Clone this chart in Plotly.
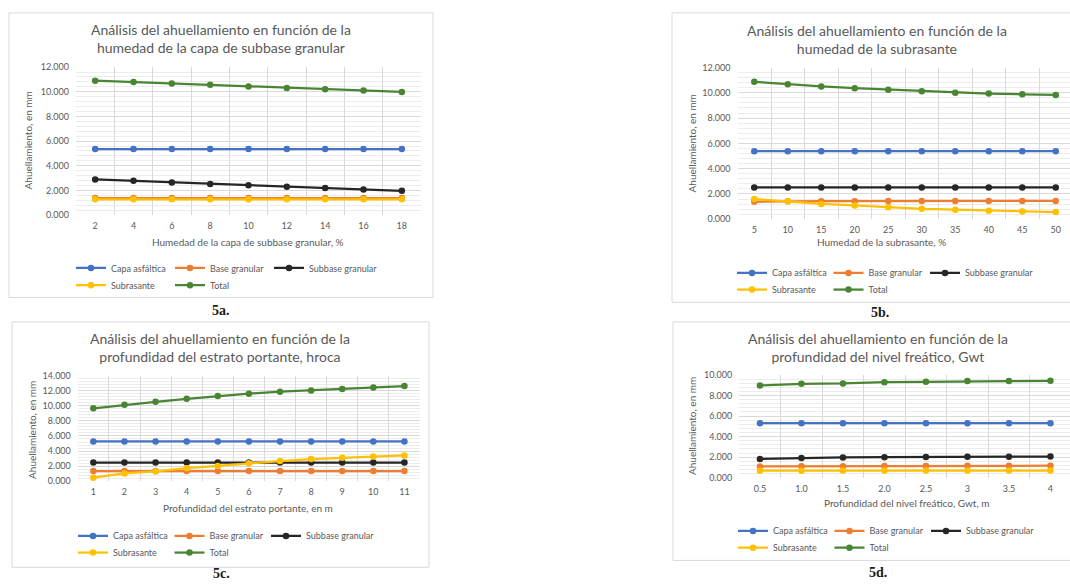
import plotly.graph_objects as go

W, H = 1070, 587

series_names = ["Capa asfáltica", "Base granular", "Subbase granular", "Subrasante", "Total"]
series_colors = ["#4472C4", "#ED7D31", "#262626", "#FFC000", "#4A8533"]

# 5a - humedad de la capa de subbase granular (%)
a_x = ["2", "4", "6", "8", "10", "12", "14", "16", "18"]
a_capa = [5.35, 5.35, 5.35, 5.35, 5.35, 5.35, 5.35, 5.35, 5.35]
a_base = [1.38, 1.38, 1.38, 1.38, 1.38, 1.38, 1.38, 1.38, 1.38]
a_subbase = [2.89, 2.78, 2.64, 2.52, 2.41, 2.30, 2.20, 2.07, 1.96]
a_subrasante = [1.27, 1.27, 1.27, 1.27, 1.27, 1.27, 1.27, 1.27, 1.27]
a_total = [10.90, 10.79, 10.68, 10.57, 10.42, 10.31, 10.20, 10.10, 9.99]

# 5b - humedad de la subrasante (%)
b_x = ["5", "10", "15", "20", "25", "30", "35", "40", "45", "50"]
b_capa = [5.38, 5.38, 5.38, 5.38, 5.38, 5.38, 5.38, 5.38, 5.38, 5.38]
b_base = [1.38, 1.42, 1.43, 1.43, 1.44, 1.44, 1.44, 1.45, 1.45, 1.45]
b_subbase = [2.51, 2.51, 2.51, 2.51, 2.51, 2.51, 2.51, 2.51, 2.51, 2.51]
b_subrasante = [1.60, 1.42, 1.21, 1.09, 0.95, 0.82, 0.75, 0.67, 0.62, 0.57]
b_total = [10.87, 10.68, 10.50, 10.37, 10.25, 10.12, 10.01, 9.94, 9.88, 9.83]

# 5c - profundidad del estrato portante (m)
c_x = ["1", "2", "3", "4", "5", "6", "7", "8", "9", "10", "11"]
c_capa = [5.28, 5.28, 5.28, 5.28, 5.28, 5.28, 5.28, 5.28, 5.28, 5.28, 5.28]
c_base = [1.35, 1.35, 1.35, 1.35, 1.35, 1.35, 1.35, 1.35, 1.35, 1.35, 1.35]
c_subbase = [2.48, 2.48, 2.48, 2.48, 2.48, 2.48, 2.48, 2.48, 2.48, 2.48, 2.48]
c_subrasante = [0.47, 1.04, 1.30, 1.73, 2.03, 2.38, 2.68, 2.94, 3.12, 3.29, 3.42]
c_total = [9.66, 10.14, 10.53, 10.92, 11.31, 11.61, 11.87, 12.04, 12.22, 12.43, 12.61]

# 5d - profundidad del nivel freático, Gwt (m)
d_x = ["0.5", "1.0", "1.5", "2.0", "2.5", "3", "3.5", "4"]
d_capa = [5.30, 5.30, 5.30, 5.30, 5.30, 5.30, 5.30, 5.30]
d_base = [1.09, 1.11, 1.12, 1.13, 1.14, 1.15, 1.16, 1.17]
d_subbase = [1.82, 1.92, 1.97, 1.99, 2.01, 2.03, 2.05, 2.06]
d_subrasante = [0.68, 0.68, 0.69, 0.69, 0.69, 0.70, 0.70, 0.70]
d_total = [8.98, 9.14, 9.17, 9.30, 9.33, 9.40, 9.40, 9.43]

titles = [
    "Análisis del ahuellamiento en función de la<br>humedad de la capa de subbase granular",
    "Análisis del ahuellamiento en función de la<br>humedad de la subrasante",
    "Análisis del ahuellamiento en función de la<br>profundidad del estrato portante, hroca",
    "Análisis del ahuellamiento en función de la<br>profundidad del nivel freático, Gwt",
]
x_titles = [
    "Humedad de la capa de subbase granular, %",
    "Humedad de la subrasante, %",
    "Profundidad del estrato portante, en m",
    "Profundidad del nivel freático, Gwt, m",
]
y_title = "Ahuellamiento, en mm"
panel_labels = ["5a.", "5b.", "5c.", "5d."]
y_max = [12, 12, 14, 10]

panels = [
    (a_x, [a_capa, a_base, a_subbase, a_subrasante, a_total]),
    (b_x, [b_capa, b_base, b_subbase, b_subrasante, b_total]),
    (c_x, [c_capa, c_base, c_subbase, c_subrasante, c_total]),
    (d_x, [d_capa, d_base, d_subbase, d_subrasante, d_total]),
]

# layout geometry in pixels
plot_px = [  # left, right, top, bottom of each plot area
    (76, 421, 62.3, 213),
    (737.5, 1070, 62.7, 217.3),
    (77.8, 420, 376.7, 484.3),
    (739.2, 1070, 376, 480.7),
]
cat_step = [38.33, 33.5, 31.1, 41.5]
box_px = [(9, 433, 7, 297), (672, 1080, 7, 302), (12, 429, 322, 572), (673, 1080, 322, 565)]
title_pos = [(221, 33), (877, 34), (220, 348), (878, 348)]
xtitle_pos = [(248, 241), (881, 241), (248, 512), (906, 507)]
ytitle_pos = [(28, 137), (692, 140), (32, 432), (692, 428)]
# legend: left x, row-1 y, row-2 y, entry width
legend_rows = [(71, 267, 284.5, 54), (732, 272, 289, 51.5), (73, 540, 557, 51.5), (733, 535, 552, 51.5)]
label_pos = [(221, 310), (880, 312), (221, 578), (878, 577)]

GRAY = "#595959"
FONT = "Lato"


def px_x(v):
    return v / W


def px_y(v):
    return 1 - v / H


fig = go.Figure()
annotations = []
shapes = []
layout = {}

for i, (xcats, values) in enumerate(panels):
    n = i + 1
    xa = "x" if n == 1 else f"x{n}"
    ya = "y" if n == 1 else f"y{n}"
    leg1 = f"legend{2 * i + 1}" if i > 0 else "legend"
    leg2 = f"legend{2 * i + 2}"
    for k, (name, color, vals) in enumerate(zip(series_names, series_colors, values)):
        extra = {}
        if name == "Subbase granular":
            # last entry of the first row: leave room for the full label
            extra["legendwidth"] = 90
        fig.add_trace(go.Scatter(
            x=xcats, y=vals, name=name, mode="lines+markers",
            line=dict(color=color, width=2.25),
            marker=dict(color=color, size=6.5, symbol="circle"),
            xaxis=xa, yaxis=ya,
            legend=leg1 if k < 3 else leg2,
            hoverinfo="x+y+name",
            **extra,
        ))

    l, r, t, b = plot_px[i]
    ncat = len(xcats)
    x_hi = -0.5 + (r - l) / cat_step[i]
    layout[f"xaxis{'' if n == 1 else n}"] = dict(
        domain=[px_x(l), px_x(r)], anchor=ya, type="category",
        range=[-0.5, min(x_hi, ncat - 0.5)],
        tickson="boundaries", ticks="", showgrid=True, gridcolor="#d9d9d9", gridwidth=1,
        showline=False, zeroline=False,
        tickfont=dict(family=FONT, size=9, color=GRAY), ticklabelstandoff=4,
        fixedrange=True,
    )
    layout[f"yaxis{'' if n == 1 else n}"] = dict(
        domain=[px_y(b), px_y(t)], anchor=xa, range=[0, y_max[i]], dtick=2,
        tickformat=".3f", showgrid=True, gridcolor="#d9d9d9", gridwidth=1,
        minor=dict(dtick=0.4, showgrid=True, gridcolor="#ececec", gridwidth=1),
        showline=False, zeroline=False, ticks="",
        tickfont=dict(family=FONT, size=9, color=GRAY), ticklabelstandoff=6,
        fixedrange=True,
    )

    lx, row1, row2, ew = legend_rows[i]
    for leg, yy in ((leg1, row1), (leg2, row2)):
        layout[leg] = dict(
            orientation="h", x=px_x(lx), y=px_y(yy), xanchor="left", yanchor="middle",
            xref="paper", yref="paper", entrywidth=ew, entrywidthmode="pixels",
            itemwidth=30, bgcolor="rgba(0,0,0,0)", borderwidth=0,
            font=dict(family=FONT, size=9, color=GRAY), tracegroupgap=0,
            itemclick=False, itemdoubleclick=False,
        )

    tx, ty = title_pos[i]
    annotations.append(dict(
        text=titles[i], x=px_x(tx), y=px_y(ty), xref="paper", yref="paper",
        showarrow=False, xanchor="center", yanchor="middle",
        font=dict(family=FONT, size=14, color=GRAY),
    ))
    ax, ay = xtitle_pos[i]
    annotations.append(dict(
        text=x_titles[i], x=px_x(ax), y=px_y(ay), xref="paper", yref="paper",
        showarrow=False, xanchor="center", yanchor="middle",
        font=dict(family=FONT, size=10, color=GRAY),
    ))
    yx, yy = ytitle_pos[i]
    annotations.append(dict(
        text=y_title, x=px_x(yx), y=px_y(yy), xref="paper", yref="paper",
        showarrow=False, xanchor="center", yanchor="middle", textangle=-90,
        font=dict(family=FONT, size=10, color=GRAY),
    ))
    px_, py_ = label_pos[i]
    annotations.append(dict(
        text=f"<b>{panel_labels[i]}</b>", x=px_x(px_), y=px_y(py_), xref="paper", yref="paper",
        showarrow=False, xanchor="center", yanchor="middle",
        font=dict(family="Liberation Serif", size=14, color="#1a1a1a"),
    ))
    bl, br, bt, bb = box_px[i]
    shapes.append(dict(
        type="rect", xref="paper", yref="paper",
        x0=px_x(bl), x1=px_x(br), y0=px_y(bb), y1=px_y(bt),
        line=dict(color="#d9d9d9", width=1), fillcolor="rgba(0,0,0,0)", layer="below",
    ))

fig.update_layout(
    width=W, height=H, margin=dict(l=0, r=0, t=0, b=0),
    paper_bgcolor="white", plot_bgcolor="white",
    annotations=annotations, shapes=shapes, showlegend=True,
    **layout,
)

fig.write_html("out.html", config={"displayModeBar": False})
